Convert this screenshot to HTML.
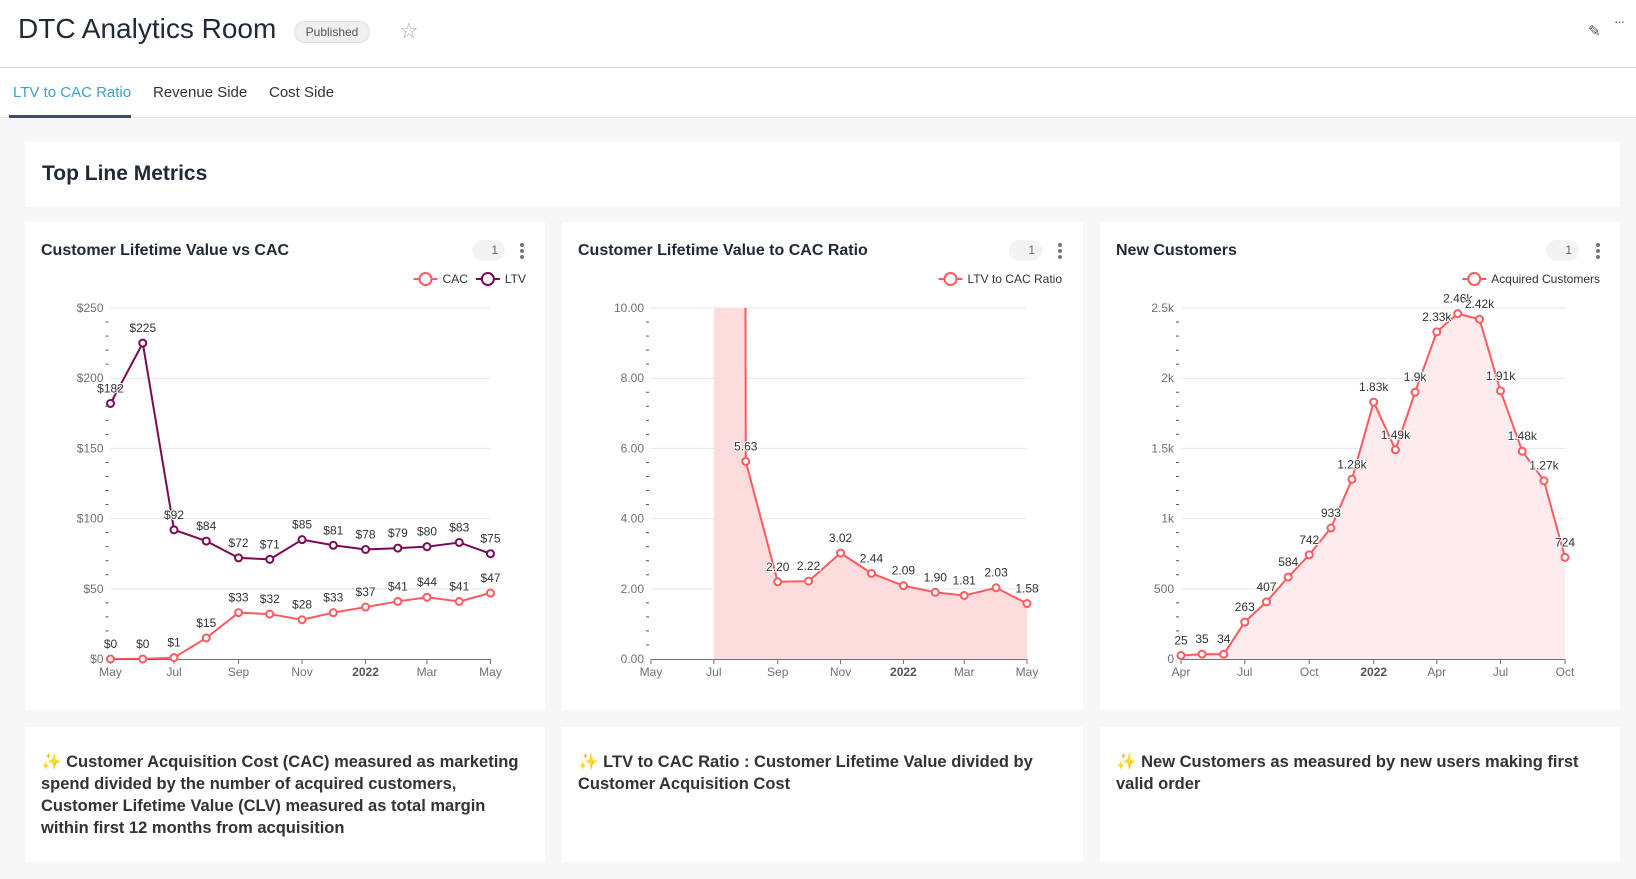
<!DOCTYPE html>
<html><head><meta charset="utf-8">
<style>
*{box-sizing:border-box;margin:0;padding:0}
body{width:1636px;height:879px;overflow:hidden;background:#f7f7f7;font-family:"Liberation Sans",sans-serif;position:relative;color:#222}
.abs{position:absolute}
#hdr{left:0;top:0;width:1636px;height:118px;background:#fff}
.panel{position:absolute;background:#fff}
.ctitle{position:absolute;font-weight:bold;font-size:16px;color:#1f2937}
.badge1{position:absolute;width:33px;height:21px;border-radius:11px;background:#f3f3f3;font-size:12px;color:#666;text-align:right;padding-right:7px;line-height:21px}
.kebab{position:absolute;width:4px;height:16px}
.kebab i{display:block;width:4px;height:4px;border-radius:2px;background:#777;margin-bottom:2px}
.desc{position:absolute;font-size:16.5px;font-weight:bold;color:#333;line-height:22px}
svg text{font-family:"Liberation Sans",sans-serif}
</style></head><body>
<div id="hdr" class="abs">
  <div class="abs" style="left:18px;top:13px;font-size:28px;color:#1f2937">DTC Analytics Room</div>
  <div class="abs" style="left:294px;top:21px;width:76px;height:22px;border:1px solid #ddd;border-radius:11px;background:#f0f0f0;font-size:12px;color:#555;text-align:center;line-height:20px">Published</div>
  <div class="abs" style="left:399px;top:18px;font-size:22px;color:#aaa">☆</div>
  <div class="abs" style="left:1588px;top:22px;font-size:15px;color:#555">✎</div>
  <div class="abs" style="left:1614px;top:14px;font-size:13px;color:#555;letter-spacing:-1px">···</div>
  <div class="abs" style="left:0;top:67px;width:1636px;height:1px;background:#ddd"></div>
  <div class="abs" style="left:13px;top:84px;font-size:15px;color:#3aa0d0">LTV to CAC Ratio</div>
  <div class="abs" style="left:153px;top:84px;font-size:15px;color:#333">Revenue Side</div>
  <div class="abs" style="left:269px;top:84px;font-size:15px;color:#333">Cost Side</div>
  <div class="abs" style="left:0;top:117px;width:1636px;height:1px;background:#e6e6e6"></div>
  <div class="abs" style="left:9px;top:115px;width:122px;height:3px;background:#3d4a7a"></div>
</div>

<div class="panel" style="left:25px;top:142px;width:1595px;height:65px">
  <div class="abs" style="left:17px;top:20px;font-size:21px;font-weight:bold;color:#1f2937">Top Line Metrics</div>
</div>

<div class="panel" style="left:25px;top:222px;width:520px;height:488px">
  <div class="ctitle" style="left:16px;top:20px">Customer Lifetime Value vs CAC</div>
  <div class="badge1" style="left:447px;top:18px">1</div>
  <div class="kebab" style="left:495px;top:21px"><i></i><i></i><i></i></div>
</div>
<div class="panel" style="left:562px;top:222px;width:521px;height:488px">
  <div class="ctitle" style="left:16px;top:20px">Customer Lifetime Value to CAC Ratio</div>
  <div class="badge1" style="left:447px;top:18px">1</div>
  <div class="kebab" style="left:496px;top:21px"><i></i><i></i><i></i></div>
</div>
<div class="panel" style="left:1100px;top:222px;width:520px;height:488px">
  <div class="ctitle" style="left:16px;top:20px">New Customers</div>
  <div class="badge1" style="left:446px;top:18px">1</div>
  <div class="kebab" style="left:496px;top:21px"><i></i><i></i><i></i></div>
</div>

<div class="panel" style="left:25px;top:727px;width:520px;height:135px">
  <div class="desc" style="left:16px;top:24px;width:495px"><span style="color:#f5b800">✨</span> Customer Acquisition Cost (CAC) measured as marketing spend divided by the number of acquired customers, Customer Lifetime Value (CLV) measured as total margin within first 12 months from acquisition</div>
</div>
<div class="panel" style="left:562px;top:727px;width:521px;height:135px">
  <div class="desc" style="left:16px;top:24px;width:480px"><span style="color:#f5b800">✨</span> LTV to CAC Ratio : Customer Lifetime Value divided by Customer Acquisition Cost</div>
</div>
<div class="panel" style="left:1100px;top:727px;width:520px;height:135px">
  <div class="desc" style="left:16px;top:24px;width:480px"><span style="color:#f5b800">✨</span> New Customers as measured by new users making first valid order</div>
</div>

<svg id="charts" class="abs" style="left:0;top:0" width="1636" height="879"></svg>

<script>
// Chart 1: CLV vs CAC (May 2021 - May 2022)
const c1Start = [2021, 4];
const c1Cac = [0, 0, 1, 15, 33, 32, 28, 33, 37, 41, 44, 41, 47];
const c1Ltv = [182, 225, 92, 84, 72, 71, 85, 81, 78, 79, 80, 83, 75];
const c1YTicks = [0, 50, 100, 150, 200, 250];
const c1XLabels = ["May", "Jul", "Sep", "Nov", "2022", "Mar", "May"];
// Chart 2: LTV to CAC ratio
const c2Start = [2021, 4];
const c2Ratio = [null, null, 500, 5.63, 2.20, 2.22, 3.02, 2.44, 2.09, 1.90, 1.81, 2.03, 1.58];
const c2RatioLabels = ["", "", "", "5.63", "2.20", "2.22", "3.02", "2.44", "2.09", "1.90", "1.81", "2.03", "1.58"];
const c2YTicks = [0, 2, 4, 6, 8, 10];
const c2XLabels = ["May", "Jul", "Sep", "Nov", "2022", "Mar", "May"];
// Chart 3: New customers (Apr 2021 - Oct 2022)
const c3Start = [2021, 3];
const c3Cust = [25, 35, 34, 263, 407, 584, 742, 933, 1280, 1830, 1490, 1900, 2330, 2460, 2420, 1910, 1480, 1270, 724];
const c3YTicks = [0, 500, 1000, 1500, 2000, 2500];
const c3YLabels = ["0", "500", "1k", "1.5k", "2k", "2.5k"];
const c3XLabels = ["Apr", "Jul", "Oct", "2022", "Apr", "Jul", "Oct"];

const NS = "http://www.w3.org/2000/svg";
const svg = document.getElementById("charts");
function mk(tag, attrs, parent) {
  const e = document.createElementNS(NS, tag);
  for (const k in attrs) e.setAttribute(k, attrs[k]);
  (parent || svg).appendChild(e);
  return e;
}
function dayOf(y, m) { return Date.UTC(y, m, 1) / 86400000; }

function drawChart(o) {
  const g = mk("g", {});
  
  
  const n = o.count;
  const d0 = dayOf(o.start[0], o.start[1]);
  const d1 = dayOf(o.start[0], o.start[1] + n - 1);
  const xs = i => o.x0 + (dayOf(o.start[0], o.start[1] + i) - d0) / (d1 - d0) * (o.x1 - o.x0);
  const ys = v => o.y1 - (v - o.yMin) / (o.yMax - o.yMin) * (o.y1 - o.y0);
  const clipId = o.name + "-clip";
  const cp = mk("clipPath", { id: clipId }, g);
  mk("rect", { x: o.x0 - 10, y: o.y0, width: o.x1 - o.x0 + 20, height: o.y1 - o.y0 }, cp);
  o.yTicks.forEach((t, i) => {
    const y = ys(t);
    if (i > 0) {
      const gl = mk("line", { x1: o.x0, x2: o.x1, y1: y, y2: y, stroke: "#e0e6f1", "stroke-width": 1 }, g);
      
      
    }
    const tl = mk("text", { x: o.x0 - 7, y: y + 4, "text-anchor": "end", "font-size": 12, fill: "#6e7079" }, g);
    tl.textContent = o.yLabel(t, i);
    
    
    if (i < o.yTicks.length - 1) {
      const step = (o.yTicks[i + 1] - t) / 5;
      for (let k = 1; k < 5; k++) {
        const my = ys(t + step * k);
        const mt = mk("line", { x1: o.x0 - 5, x2: o.x0 - 2, y1: my, y2: my, stroke: "#555", "stroke-width": 1 }, g);
        
        
      }
    }
  });
  const ax = mk("line", { x1: o.x0, x2: o.x1, y1: o.y1 + 0.5, y2: o.y1 + 0.5, stroke: "#6e7079", "stroke-width": 1 }, g);
  
  
  o.xLabels.forEach((lb, j) => {
    const x = xs(j * o.stride);
    const tk = mk("line", { x1: x, x2: x, y1: o.y1, y2: o.y1 + 5, stroke: "#6e7079" }, g);
    
    
    const t = mk("text", { x: x, y: o.y1 + 17, "text-anchor": "middle", "font-size": 12, fill: lb === "2022" ? "#555" : "#6e7079", "font-weight": lb === "2022" ? "bold" : "normal" }, g);
    t.textContent = lb;
    
    
  });
  o.series.forEach(s => {
    const pts = [];
    s.values.forEach((v, i) => { if (v !== null) pts.push([xs(i), ys(v), i, v]); });
    const cg = mk("g", { "clip-path": "url(#" + clipId + ")" }, g);
    if (s.area) {
      const d = "M" + pts[0][0] + "," + o.y1 + " " + pts.map(p => "L" + p[0] + "," + p[1]).join(" ") + " L" + pts[pts.length - 1][0] + "," + o.y1 + "Z";
      const a = mk("path", { d: d, fill: s.area, stroke: "none" }, cg);
      
      
    }
    const l = mk("path", { d: "M" + pts.map(p => p[0] + "," + p[1]).join(" L"), fill: "none", stroke: s.color, "stroke-width": 2 }, cg);
    
    
    pts.forEach(p => {
      if (p[1] < o.y0) return;
      const c = mk("circle", { cx: p[0], cy: p[1], r: 3.5, fill: "#fff", stroke: s.color, "stroke-width": 2 }, g);
      
      
      const t = mk("text", { x: p[0], y: p[1] - 11, "text-anchor": "middle", "font-size": 12, fill: "#333", stroke: "#fff", "stroke-width": 2, "paint-order": "stroke" }, g);
      t.textContent = s.label(p[3], p[2]);
      
      
    });
  });
  let lx = o.legendRight;
  for (let k = o.series.length - 1; k >= 0; k--) {
    const s = o.series[k];
    const lt = mk("text", { x: lx, y: 283, "text-anchor": "end", "font-size": 12, fill: "#333" }, g);
    lt.textContent = s.legend;
    
    
    const tw = lt.getComputedTextLength();
    const ix = lx - tw - 17;
    const ll = mk("line", { x1: ix - 12, x2: ix + 12, y1: 279, y2: 279, stroke: s.color, "stroke-width": 2 }, g);
    
    
    const lc = mk("circle", { cx: ix, cy: 279, r: 6, fill: "#fff", stroke: s.color, "stroke-width": 2 }, g);
    
    
    lx = ix - 20;
  }
}

drawChart({
  name: "clv-vs-cac-chart", count: c1Cac.length, start: c1Start, stride: 2,
  x0: 110.5, x1: 490.5, y0: 308, y1: 659, yMin: 0, yMax: 250,
  yTicks: c1YTicks, yLabel: t => "$" + t, xLabels: c1XLabels, legendRight: 526,
  series: [
    { name: "cac", legend: "CAC", color: "#ff5a5f", values: c1Cac, label: v => "$" + v },
    { name: "ltv", legend: "LTV", color: "#7b0a55", values: c1Ltv, label: v => "$" + v }
  ]
});
drawChart({
  name: "ltv-cac-ratio-chart", count: c2Ratio.length, start: c2Start, stride: 2,
  x0: 651, x1: 1027, y0: 308, y1: 659, yMin: 0, yMax: 10,
  yTicks: c2YTicks, yLabel: t => t.toFixed(2), xLabels: c2XLabels, legendRight: 1062,
  series: [
    { name: "ratio", legend: "LTV to CAC Ratio", color: "#ff5a5f", area: "#fddcde", values: c2Ratio, label: (v, i) => c2RatioLabels[i] }
  ]
});
drawChart({
  name: "new-customers-chart", count: c3Cust.length, start: c3Start, stride: 3,
  x0: 1181, x1: 1565, y0: 308, y1: 659, yMin: 0, yMax: 2500,
  yTicks: c3YTicks, yLabel: (t, i) => c3YLabels[i], xLabels: c3XLabels, legendRight: 1600,
  series: [
    { name: "acquired-customers", legend: "Acquired Customers", color: "#ff5a5f", area: "#fdebed", values: c3Cust,
      label: v => v >= 1000 ? (Math.round(v / 10) / 100) + "k" : String(v) }
  ]
});
</script>
</body></html>
